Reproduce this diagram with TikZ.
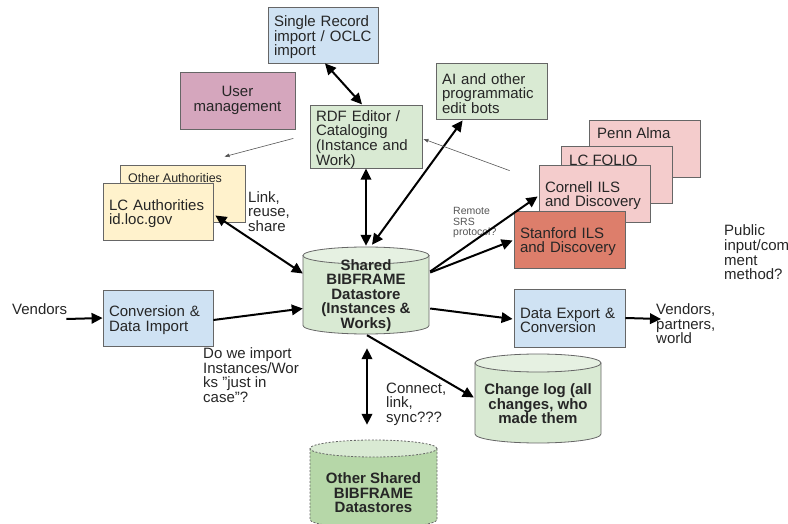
\documentclass[tikz,border=0pt]{standalone}
\usepackage{fontspec}
\setmainfont{Liberation Sans}
\usetikzlibrary{arrows.meta,calc}
\definecolor{lblue}{HTML}{CFE2F3}
\definecolor{lpurple}{HTML}{D5A6BD}
\definecolor{lgreen}{HTML}{D9EAD3}
\definecolor{lgreentop}{HTML}{E6F1E2}
\definecolor{mgreen}{HTML}{B6D7A8}
\definecolor{lyellow}{HTML}{FFF2CC}
\definecolor{lpink}{HTML}{F4CCCC}
\definecolor{salmon}{HTML}{DD7E6B}
\definecolor{bordc}{HTML}{666666}
\definecolor{txtc}{HTML}{262626}
\definecolor{thinc}{HTML}{555555}
\newcommand{\mycyl}[8]{%
  \pgfmathsetmacro\cylrx{(#2-#1)/2}%
  \pgfmathsetmacro\cylcx{(#1+#2)/2}%
  \pgfmathsetmacro\cylyt{#3+#5}%
  \pgfmathsetmacro\cylyb{#4-#5}%
  \path[draw=bordc,line width=0.8pt,fill=#7,#6] (#1,\cylyt) -- (#1,\cylyb)
     arc[start angle=180,end angle=360,x radius=\cylrx pt,y radius=#5pt] -- (#2,\cylyt) -- cycle;
  \path[draw=bordc,line width=0.8pt,fill=#8,#6] (\cylcx,\cylyt) ellipse[x radius=\cylrx pt,y radius=#5pt];
}
\tikzset{
  txt/.style={font=\fontsize{15}{14.6}\selectfont, text=txtc},
  box/.style={txt, draw=bordc, line width=0.8pt, rectangle, inner xsep=6pt, inner ysep=0pt, align=left,
              execute at begin node={\hyphenpenalty=10000\relax\rule{0pt}{15.5pt}}},
  cbox/.style={txt, draw=bordc, line width=0.8pt, rectangle, inner sep=0pt, align=center},
  lbl/.style={txt, inner sep=0pt, anchor=west, align=left},
  cyltxt/.style={font=\fontsize{15}{14.6}\selectfont\bfseries, text=txtc, inner sep=0pt, align=center},
  shapeholder/.style={inner sep=0pt, rectangle},
  tip/.tip={Triangle[length=11pt,width=10.5pt]},
  arr/.style={draw=black, line width=2pt, -tip},
  darr/.style={draw=black, line width=2pt, tip-tip},
  thinarr/.style={draw=thinc, line width=0.6pt, -{Triangle[length=5pt,width=3.5pt]}},
}
\begin{document}
\begin{tikzpicture}[x=1pt,y=-1pt]
\useasboundingbox (0,0) rectangle (788,524);

% boxes
\node[box, fill=lblue, minimum width=110pt, minimum height=56pt, text width=98pt] (sr) at (323,35) {Single Record\\import / OCLC\\import};
\node[cbox, fill=lpurple, minimum width=115pt, minimum height=57pt] (um) at (237.5,100.5) {User\\management};
\node[box, fill=lgreen, minimum width=112pt, minimum height=56pt, text width=100pt] (rdf) at (366,137) {RDF Editor /\\Cataloging\\(Instance and\\Work)};
\node[box, fill=lgreen, minimum width=111pt, minimum height=56pt, text width=99pt] (ai) at (491.5,91) {AI and other\\programmatic\\edit bots};

\node[box, fill=lyellow, minimum width=125pt, minimum height=57pt, text width=113pt] (oa) at (182.5,193.5) {};
\node[lbl, font=\fontsize{12.5}{12.5}\selectfont] (oatxt) at (128,178) {Other Authorities};
\node[box, fill=lyellow, minimum width=110pt, minimum height=57pt, text width=98pt] (lc) at (158,211.5) {LC Authorities\\id.loc.gov};

\node[box, fill=lpink, minimum width=111pt, minimum height=57pt, text width=99pt] (penn) at (644.5,148.5) {};
\node[lbl] (penntxt) at (597,133) {Penn Alma};
\node[box, fill=lpink, minimum width=111pt, minimum height=57pt, text width=99pt] (folio) at (616.5,174.5) {};
\node[lbl] (foliotxt) at (569,160.5) {LC FOLIO};
\node[box, fill=lpink, minimum width=111pt, minimum height=57pt, text width=99pt] (cornell) at (594.5,193.5) {Cornell ILS\\and Discovery};
\node[box, fill=salmon, minimum width=111pt, minimum height=57pt, text width=99pt] (stanford) at (569.5,239.5) {Stanford ILS\\and Discovery};

\node[box, fill=lblue, minimum width=110pt, minimum height=56pt, text width=98pt] (conv) at (158,318) {Conversion \&\\Data Import};
\node[box, fill=lblue, minimum width=111pt, minimum height=58pt, text width=99pt] (exp) at (569.5,318) {Data Export \&\\Conversion};

% cylinders
\mycyl{303}{429}{247}{334}{8.5}{}{lgreen}{lgreentop}
\node[shapeholder, minimum width=126pt, minimum height=87pt] (shared) at (366,290.5) {};
\node[cyltxt] (sharedtxt) at (366,295.5) {Shared\\BIBFRAME\\Datastore\\(Instances \&\\Works)};

\mycyl{475}{601}{354}{443}{9}{}{lgreen}{lgreentop}
\node[shapeholder, minimum width=126pt, minimum height=89pt] (change) at (538,398.5) {};
\node[cyltxt] (changetxt) at (538,404) {Change log (all\\changes, who\\made them};

\mycyl{310}{437}{440}{528}{8.5}{dash pattern=on 2pt off 1.6pt}{mgreen}{lgreen}
\node[shapeholder, minimum width=127pt, minimum height=88pt] (other) at (373.5,484) {};
\node[cyltxt] (othertxt) at (373.5,493) {Other Shared\\BIBFRAME\\Datastores};

% labels
\node[lbl] (link) at (248,211.5) {Link,\\reuse,\\share};
\node[lbl, font=\fontsize{10.5}{10.5}\selectfont, text=thinc] (srs) at (453,222.5) {Remote\\SRS\\protocol?};
\node[lbl] (public) at (724,252.5) {Public\\input/com\\ment\\method?};
\node[lbl] (vend) at (12,309) {Vendors};
\node[lbl] (doimp) at (203,375) {Do we import\\Instances/Wor\\ks \symbol{34}just in\\case\symbol{34}?};
\node[lbl] (conn) at (386,404) {Connect,\\link,\\sync???};
\node[lbl] (vend2) at (656,324) {Vendors,\\partners,\\world};

% connectors
\draw[darr] ($(sr.south)+(2,0)$) -- ($(rdf.north)+(-4,-1)$);
\draw[darr] (rdf.south) -- ($(shared.north)+(0,-1)$);
\draw[darr] ($(ai.south west)+(27,1)$) -- ($(shared.north)+(6,-2)$);
\draw[darr] ($(lc.east)+(2,4)$) -- ($(shared.west)+(0,-17)$);
\draw[arr] ($(vend.east)+(-1,10)$) -- (conv.west);
\draw[arr] ($(conv.east)+(0,2)$) -- ($(shared.west)+(0,18)$);
\draw[arr] ($(shared.east)+(1,-19)$) -- ($(cornell.west)+(-1,3)$);
\draw[arr] ($(shared.east)+(1,-18)$) -- ($(stanford.west)+(-1,1)$);
\draw[arr] ($(shared.east)+(1,18)$) -- ($(exp.west)+(-1,1)$);
\draw[arr] (exp.east) -- ($(vend2.west)+(5,-5)$);
\draw[arr] ($(shared.south)+(1,1)$) -- ($(change.west)+(-1,-1)$);
\draw[darr] ($(shared.south)+(1,14)$) -- ($(other.north)+(-6.5,-15)$);
\draw[thinarr] ($(um.south east)+(-2,9)$) -- ($(oa.north)+(42,-8)$);
\draw[thinarr] ($(cornell.north west)+(-29,6)$) -- ($(rdf.east)+(1,2)$);
\end{tikzpicture}
\end{document}
